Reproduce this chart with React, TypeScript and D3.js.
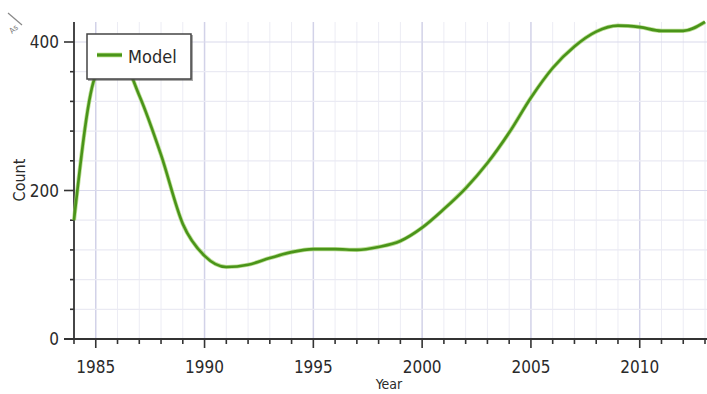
import React from "react";
import * as d3 from "d3";

const years = [1984, 1985, 1986, 1987, 1988, 1989, 1990, 1991, 1992, 1993, 1994, 1995, 1996, 1997, 1998, 1999, 2000, 2001, 2002, 2003, 2004, 2005, 2006, 2007, 2008, 2009, 2010, 2011, 2012, 2013];
const counts = [160, 355, 385, 328, 248, 155, 112, 97, 100, 109, 117, 121, 121, 120, 124, 132, 150, 175, 203, 237, 278, 325, 365, 394, 414, 422, 420, 415, 415, 427];
const xTickLabels = [1985, 1990, 1995, 2000, 2005, 2010];
const yTickLabels = [0, 200, 400];
const seriesName = "Model";
const xTitle = "Year";
const yTitle = "Count";

const W = 707;
const H = 394;

export default function App() {
  const x = d3.scaleLinear().domain([1984, 2013]).range([74, 705]);
  const y = d3.scaleLinear().domain([0, 400]).range([339, 42]);
  const yTop = 22;
  const data = years.map((yr, i) => ({ yr, v: counts[i] }));
  const line = d3
    .line<{ yr: number; v: number }>()
    .x((d) => x(d.yr))
    .y((d) => y(d.v))
    .curve(d3.curveMonotoneX);

  const yearTicks = d3.range(1984, 2014);
  const yMinor = d3.range(0, 441, 40).filter((v) => y(v) >= yTop);
  const font = "'DejaVu Sans Condensed', 'DejaVu Sans', sans-serif";
  const txt = "#2a2a2a";

  return (
    <svg width={W} height={H} style={{ position: "absolute", left: 0, top: 0, background: "#fff" }}>
      <rect x={0} y={0} width={W} height={H} fill="#fff" />
      {/* gridlines */}
      {yearTicks.map((t) => (
        <line key={"vg" + t} x1={x(t)} x2={x(t)} y1={yTop} y2={y(0)} stroke={t % 5 === 0 ? "#d2d2e8" : "#ececf4"} strokeWidth={t % 5 === 0 ? 1.5 : 1} />
      ))}
      {yMinor.map((v) => (
        <line key={"hg" + v} x1={x(1984)} x2={W} y1={y(v)} y2={y(v)} stroke={v % 200 === 0 ? "#dadaec" : "#eaeaf3"} strokeWidth={1.2} />
      ))}
      {/* axes */}
      <line x1={74} x2={74} y1={yTop} y2={y(0) + 1} stroke="#333" strokeWidth={1.8} />
      <line x1={64} x2={W} y1={y(0)} y2={y(0)} stroke="#333" strokeWidth={1.8} />
      {yMinor.map((v) => (
        <line key={"yt" + v} x1={v % 200 === 0 ? 64 : 70} x2={74} y1={y(v)} y2={y(v)} stroke="#333" strokeWidth={1.6} />
      ))}
      {yearTicks.map((t) => (
        <line key={"xt" + t} x1={x(t)} x2={x(t)} y1={y(0)} y2={y(0) + (t % 5 === 0 ? 9 : 5)} stroke="#333" strokeWidth={1.6} />
      ))}
      {yTickLabels.map((v) => (
        <text key={"yl" + v} x={59} y={y(v)} dy="0.36em" textAnchor="end" fontFamily={font} fontSize={17} fill={txt}>
          {v}
        </text>
      ))}
      {xTickLabels.map((t) => (
        <text key={"xl" + t} x={x(t)} y={373} textAnchor="middle" fontFamily={font} fontSize={17} fill={txt}>
          {t}
        </text>
      ))}
      <text x={389} y={389} textAnchor="middle" fontFamily={font} fontSize={14} fill={txt}>
        {xTitle}
      </text>
      <text transform={`translate(25,180) rotate(-90)`} textAnchor="middle" fontFamily={font} fontSize={16} fill={txt}>
        {yTitle}
      </text>
      {/* odd corner icon */}
      <line x1={8} y1={13} x2={22} y2={25} stroke="#888" strokeWidth={1.2} />
      <text transform="translate(12,34) rotate(-40)" fontFamily={font} fontSize={8} fill="#777">
        As
      </text>
      {/* series line */}
      <path d={line(data) || ""} fill="none" stroke="#9fd16a" strokeWidth={4.2} strokeLinejoin="round" opacity={0.7} />
      <path d={line(data) || ""} fill="none" stroke="#4a9419" strokeWidth={2.6} strokeLinejoin="round" />
      {/* legend */}
      <rect x={88} y={35} width={105} height={46} fill="#555" opacity={0.5} />
      <rect x={87} y={34} width={104} height={45} fill="#fff" stroke="#444" strokeWidth={1.5} />
      <line x1={97} x2={122} y1={55} y2={55} stroke="#9fd16a" strokeWidth={4.5} />
      <line x1={97} x2={122} y1={55} y2={55} stroke="#4a9419" strokeWidth={2.8} />
      <text x={128} y={57} dy="0.32em" fontFamily={font} fontSize={18} fill={txt}>
        {seriesName}
      </text>
    </svg>
  );
}
